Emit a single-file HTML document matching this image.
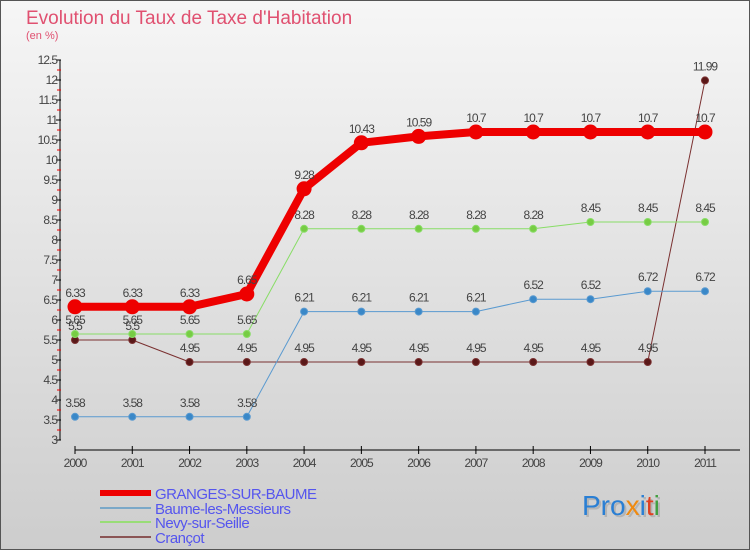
<!DOCTYPE html>
<html><head><meta charset="utf-8"><style>
body{margin:0;width:750px;height:550px;overflow:hidden;font-family:"Liberation Sans",sans-serif}
svg text{font-family:"Liberation Sans",sans-serif}
</style></head><body>
<svg width="750" height="550" xmlns="http://www.w3.org/2000/svg">
<defs><linearGradient id="bg" x1="0" y1="0" x2="0" y2="1"><stop offset="0" stop-color="#f6f6f6"/><stop offset="1" stop-color="#cdcdcd"/></linearGradient></defs>
<rect x="0.5" y="0.5" width="749" height="549" fill="url(#bg)" stroke="#555"/>
<text x="26" y="24" font-size="19" fill="#e05070">Evolution du Taux de Taxe d'Habitation</text>
<text x="26" y="39" font-size="11" fill="#e05070">(en %)</text>
<g id="axes"></g><g id="series"></g>
<g>
<rect x="100" y="490" width="51" height="6" fill="#ee0000"/>
<text x="155" y="499" font-size="15" letter-spacing="-0.5" fill="#5555ee">GRANGES-SUR-BAUME</text>
<rect x="100" y="507" width="51" height="2" fill="#7aa8c8"/>
<text x="155" y="514" font-size="15" letter-spacing="-0.5" fill="#5555ee">Baume-les-Messieurs</text>
<rect x="100" y="521" width="51" height="2" fill="#99dd77"/>
<text x="155" y="528" font-size="15" letter-spacing="-0.5" fill="#5555ee">Nevy-sur-Seille</text>
<rect x="100" y="536" width="51" height="2" fill="#8b5555"/>
<text x="155" y="543" font-size="15" letter-spacing="-0.5" fill="#5555ee">Crançot</text>
</g>
<g font-size="28">
<text x="584" y="517" fill="#999" opacity="0.5"><tspan>Proxiti</tspan></text>
<text x="582" y="515"><tspan fill="#2a7fd4">Pro</tspan><tspan fill="#f08a10">x</tspan><tspan fill="#2a7fd4">i</tspan><tspan fill="#e04020">t</tspan><tspan fill="#40a040">i</tspan></text>
</g>
</svg>
<script>
const years=[2000,2001,2002,2003,2004,2005,2006,2007,2008,2009,2010,2011];
const granges=[6.33,6.33,6.33,6.65,9.28,10.43,10.59,10.7,10.7,10.7,10.7,10.7];
const baume=[3.58,3.58,3.58,3.58,6.21,6.21,6.21,6.21,6.52,6.52,6.72,6.72];
const nevy=[5.65,5.65,5.65,5.65,8.28,8.28,8.28,8.28,8.28,8.45,8.45,8.45];
const crancot=[5.5,5.5,4.95,4.95,4.95,4.95,4.95,4.95,4.95,4.95,4.95,11.99];
const yTicks=[3,3.5,4,4.5,5,5.5,6,6.5,7,7.5,8,8.5,9,9.5,10,10.5,11,11.5,12,12.5];
const NS="http://www.w3.org/2000/svg";
const xs=i=>75+i*(630/11);
const ys=v=>440-(v-3)*40;
function mk(tag,attrs,parent){const e=document.createElementNS(NS,tag);for(const k in attrs)e.setAttribute(k,attrs[k]);parent.appendChild(e);return e;}
const ax=document.getElementById('axes');
let l=mk('line',{x1:60,y1:ys(12.5),x2:60,y2:ys(3),stroke:'#000','stroke-width':1},ax);


yTicks.forEach((v,k)=>{
 const t=mk('line',{x1:56,x2:61,y1:ys(v),y2:ys(v),stroke:'#000'},ax);
 
 
 if(k<yTicks.length-1){
  const m=mk('line',{x1:57,x2:61,y1:ys(v)-10,y2:ys(v)-10,stroke:'#e00'},ax);
  
  
 }
 const tx=mk('text',{x:57,y:ys(v)+4,'text-anchor':'end','font-size':12,fill:'#444','letter-spacing':'-1'},ax);
 tx.textContent=String(v);
 
 
});
l=mk('line',{x1:75,y1:450,x2:740,y2:450,stroke:'#000'},ax);


years.forEach((y,i)=>{
 const t=mk('line',{x1:xs(i),x2:xs(i),y1:446,y2:454,stroke:'#000'},ax);
 
 
 const tx=mk('text',{x:xs(i),y:467,'text-anchor':'middle','font-size':12,fill:'#444','letter-spacing':'-1'},ax);
 tx.textContent=String(y);
 
 
});
const sg=document.getElementById('series');
function series(name,data,color,w,r,ptColor){
 const g=mk('g',{},sg);
 
 
 const p=mk('polyline',{points:data.map((v,i)=>xs(i)+','+ys(v)).join(' '),fill:'none',stroke:color,'stroke-width':w,'stroke-linejoin':'round'},g);
 
 
 data.forEach((v,i)=>{
  const c=mk('circle',{cx:xs(i),cy:ys(v),r:r,fill:ptColor,stroke:color,'stroke-width':w>3?0:1},g);
  
  
  const t=mk('text',{x:xs(i),y:ys(v)-10,'text-anchor':'middle','font-size':12,fill:'#444','letter-spacing':'-1'},g);
  t.textContent=String(v);
  
  
 });
}
series('crancot',crancot,'#7a3030',1,3.5,'#5a1818');
series('baume',baume,'#5a9ad0',1,3.5,'#3a88c8');
series('nevy',nevy,'#88dd66',1,3.5,'#77cc44');
series('granges',granges,'#ee0000',8,7.5,'#ee0000');
</script>
</body></html>
